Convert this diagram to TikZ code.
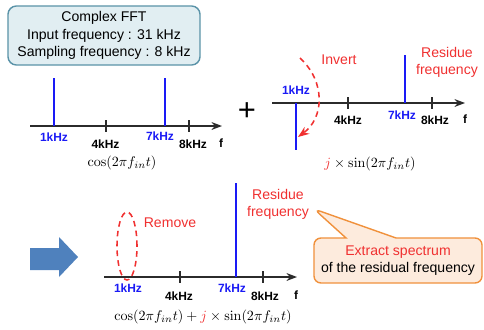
\documentclass[tikz,border=0pt]{standalone}
\usepackage[no-math]{fontspec}
\setmainfont{Liberation Sans}
\usetikzlibrary{shapes.callouts,arrows.meta}
\definecolor{boxfill}{HTML}{E1EEF2}
\definecolor{boxline}{HTML}{5A93A8}
\definecolor{spikeblue}{HTML}{1A1AF5}
\definecolor{notered}{HTML}{F03030}
\definecolor{calloutfill}{HTML}{FDEBDD}
\definecolor{calloutline}{HTML}{F0913C}
\definecolor{bigarrow}{HTML}{4F81BD}
\definecolor{axisgray}{HTML}{2B2B2B}
\begin{document}
\begin{tikzpicture}[x=0.025cm,y=-0.025cm,>=Stealth,
    axis/.style={->,line width=1pt,draw=axisgray},
    spike/.style={line width=1.5pt,draw=spikeblue},
    tickmark/.style={line width=1pt,draw=axisgray},
    khz/.style={font=\fontsize{8.5}{9}\selectfont\bfseries,inner sep=0pt},
    bluekhz/.style={khz,text=spikeblue},
    formula/.style={font=\fontsize{10}{12}\selectfont,inner sep=0pt},
    note/.style={font=\fontsize{10}{12}\selectfont,text=notered,align=center,inner sep=0pt}]
\useasboundingbox (0,0) rectangle (484,329);
%
\node[draw=boxline,fill=boxfill,line width=1pt,rounded corners=6pt,align=center,
      minimum width=4.8cm,minimum height=1.475cm,inner sep=0pt,
      font=\fontsize{10}{12.2}\selectfont] (fft) at (104,35.5)
      {Complex FFT\\Input frequency : 31 kHz\\Sampling frequency : 8 kHz};
%
% cos spectrum
\coordinate (a1) at (30,126);
\coordinate (b1) at (222,126);
\draw[axis] (a1) -- (b1);
\draw[spike] (54,126) -- (54,78);
\draw[spike] (165,126) -- (165,78);
\draw[tickmark] (106,120) -- (106,132);
\draw[tickmark] (189,120) -- (189,132);
\node[bluekhz] (one1) at (54,137) {1kHz};
\node[khz] (four1) at (105.5,144) {4kHz};
\node[bluekhz] (seven1) at (160,136) {7kHz};
\node[khz] (eight1) at (193,144) {8kHz};
\node[khz] (f1) at (221,143) {f};
\node[formula] (cos1) at (122,163) {$\cos(2\pi f_{in}t)$};
%
\node[font=\fontsize{22}{22}\selectfont,inner sep=0pt] (plus) at (247,112) {+};
%
% j sin spectrum
\coordinate (a2) at (272,103);
\coordinate (b2) at (465,103);
\draw[axis] (a2) -- (b2);
\draw[spike] (296,103) -- (296,150);
\draw[spike] (405,103) -- (405,55);
\draw[tickmark] (348,97) -- (348,109);
\draw[tickmark] (432,97) -- (432,109);
\node[bluekhz] (one2) at (296,90) {1kHz};
\node[khz] (four2) at (348,120.5) {4kHz};
\node[bluekhz] (seven2) at (402,115) {7kHz};
\node[khz] (eight2) at (435,120) {8kHz};
\node[khz] (f2) at (465,119.5) {f};
\node[formula] (sin2) at (370,164) {${\color{notered}j}\times\sin(2\pi f_{in}t)$};
\node[note] (invert) at (339,60) {Invert};
\node[note] (res2) at (447,62) {Residue\\frequency};
\draw[->,dashed,line width=1.1pt,draw=notered,dash pattern=on 4pt off 3pt]
     (300,58) .. controls (326,82) and (324,118) .. (298,137);
%
\fill[bigarrow] (30,248) -- (59,248) -- (59,237) -- (78,257) -- (59,277) -- (59,270) -- (30,270) -- cycle;
%
% sum spectrum
\coordinate (a3) at (104,277);
\coordinate (b3) at (297,277);
\draw[axis] (a3) -- (b3);
\draw[spike] (236,277) -- (236,183);
\draw[tickmark] (180,271) -- (180,283);
\draw[tickmark] (263,271) -- (263,283);
\node[bluekhz] (one3) at (128,288) {1kHz};
\node[khz] (four3) at (179,296) {4kHz};
\node[bluekhz] (seven3) at (232,288) {7kHz};
\node[khz] (eight3) at (265,296) {8kHz};
\node[khz] (f3) at (296,295) {f};
\node[formula] (sum3) at (203,317)
     {$\cos(2\pi f_{in}t)+{\color{notered}j}\times\sin(2\pi f_{in}t)$};
\draw[dashed,line width=1.1pt,draw=notered,dash pattern=on 4pt off 3pt]
     (127,246) ellipse (0.25cm and 0.85cm);
\node[note] (remove) at (170,223) {Remove};
\node[note] (res3) at (278,204) {Residue\\frequency};
%
\node[rectangle callout,draw=calloutline,fill=calloutfill,line width=1pt,
      rounded corners=5pt,minimum width=4.2cm,minimum height=1.125cm,
      callout absolute pointer={(314,209)},callout pointer width=1.25cm,
      align=center,inner sep=0pt,font=\fontsize{10}{12.2}\selectfont] (extract) at (398,260.5)
      {{\color{notered}Extract spectrum}\\of the residual frequency};
\end{tikzpicture}
\end{document}
